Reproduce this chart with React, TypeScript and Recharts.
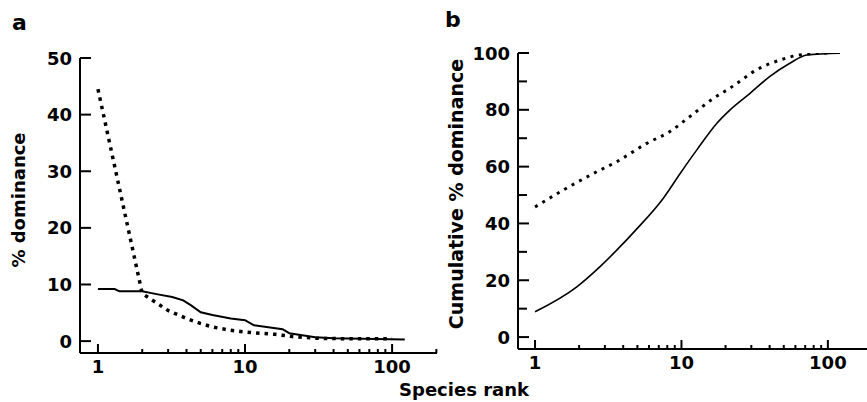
import { LineChart, Line, XAxis, YAxis } from "recharts";

// panel a: % dominance by species rank
const dottedA = [
  { x: 1, y: 44.5 },
  { x: 2, y: 8.4 },
  { x: 3, y: 5.4 },
  { x: 4, y: 4.0 },
  { x: 5, y: 3.1 },
  { x: 6, y: 2.5 },
  { x: 8, y: 1.9 },
  { x: 11, y: 1.5 },
  { x: 16, y: 1.2 },
  { x: 21, y: 0.8 },
  { x: 31, y: 0.5 },
  { x: 50, y: 0.4 },
  { x: 100, y: 0.4 },
];

const solidA = [
  { x: 1, y: 9.2 },
  { x: 1.3, y: 9.2 },
  { x: 1.4, y: 8.8 },
  { x: 2, y: 8.8 },
  { x: 2.5, y: 8.3 },
  { x: 3.2, y: 7.8 },
  { x: 3.8, y: 7.2 },
  { x: 4.3, y: 6.3 },
  { x: 5, y: 5.1 },
  { x: 6, y: 4.6 },
  { x: 8, y: 4.0 },
  { x: 10, y: 3.7 },
  { x: 11.5, y: 2.8 },
  { x: 14, y: 2.5 },
  { x: 18, y: 2.1 },
  { x: 20, y: 1.4 },
  { x: 30, y: 0.7 },
  { x: 40, y: 0.5 },
  { x: 122, y: 0.3 },
];

// panel b: cumulative % dominance
const dottedB = [
  { x: 1, y: 45.8 },
  { x: 1.64, y: 52.4 },
  { x: 2.64, y: 58.2 },
  { x: 3.6, y: 61.7 },
  { x: 5.8, y: 68.2 },
  { x: 8.3, y: 72.3 },
  { x: 11.4, y: 77.6 },
  { x: 16.5, y: 84 },
  { x: 21.4, y: 87.6 },
  { x: 34, y: 94.6 },
  { x: 47, y: 97.5 },
  { x: 64, y: 99.3 },
  { x: 100, y: 100 },
];

const solidB = [
  { x: 1, y: 8.9 },
  { x: 1.93, y: 17.7 },
  { x: 2.78, y: 24.8 },
  { x: 3.6, y: 30.5 },
  { x: 4.94, y: 38.0 },
  { x: 7.5, y: 48.8 },
  { x: 9.8, y: 57.6 },
  { x: 12.7, y: 65.8 },
  { x: 17.4, y: 75.2 },
  { x: 21.4, y: 79.9 },
  { x: 29.4, y: 85.8 },
  { x: 40, y: 91.7 },
  { x: 55, y: 96.4 },
  { x: 72, y: 99.3 },
  { x: 121, y: 99.9 },
];

const rankTicksA = [1, 2, 3, 4, 5, 6, 7, 8, 9, 10, 20, 30, 40, 50, 60, 70, 80, 90, 100, 200];
const rankTicksB = [1, 2, 3, 4, 5, 6, 7, 8, 9, 10, 20, 30, 40, 50, 60, 70, 80, 90, 100];
const majorRanks = [1, 10, 100];
const ticksA = [0, 10, 20, 30, 40, 50];
const ticksB = [0, 10, 20, 30, 40, 50, 60, 70, 80, 90, 100];
const majorB = [0, 20, 40, 60, 80, 100];

const font = "'DejaVu Sans', sans-serif";

function XTick(props: any) {
  const { x, y, payload } = props;
  const major = majorRanks.includes(payload.value);
  return (
    <g>
      <line x1={x} x2={x} y1={y} y2={y - (major ? 9 : 4)} stroke="#000" strokeWidth={2} />
      {major && (
        <text x={x} y={y + 20} textAnchor="middle" fontFamily={font} fontWeight="bold" fontSize={18} fill="#000">
          {payload.value}
        </text>
      )}
    </g>
  );
}

function makeYTick(labels: number[]) {
  return (props: any) => {
    const { x, y, payload } = props;
    const show = labels.includes(payload.value);
    return (
      <g>
        <line x1={x} x2={x + (show ? 11 : 9)} y1={y} y2={y} stroke="#000" strokeWidth={2} />
        {show && (
          <text x={x - 8} y={y + 6.5} textAnchor="end" fontFamily={font} fontWeight="bold" fontSize={18} fill="#000">
            {payload.value}
          </text>
        )}
      </g>
    );
  };
}

const axisStyle = { stroke: "#000", strokeWidth: 2 };

export default function App() {
  return (
    <div style={{ position: "absolute", left: 0, top: 0, width: 867, height: 402, background: "#fff" }}>
      <div style={{ position: "absolute", left: 0, top: 0 }}>
        <LineChart width={440} height={402} margin={{ top: 58, right: 3, bottom: 0, left: 0 }}>
          <XAxis
            type="number"
            dataKey="x"
            scale="log"
            domain={[0.755, 202]}
            allowDataOverflow
            ticks={rankTicksA}
            interval={0}
            height={49}
            tickSize={0}
            tickMargin={0}
            tickLine={false}
            axisLine={axisStyle}
            tick={XTick}
          />
          <YAxis
            type="number"
            domain={[-2.1, 50]}
            allowDataOverflow
            ticks={ticksA}
            interval={0}
            width={80}
            tickSize={0}
            tickMargin={0}
            tickLine={false}
            axisLine={axisStyle}
            tick={makeYTick(ticksA)}
          />
          <Line data={solidA} dataKey="y" type="linear" stroke="#000" strokeWidth={2} dot={false} isAnimationActive={false} />
          <Line data={dottedA} dataKey="y" type="linear" stroke="#000" strokeWidth={3.5} strokeDasharray="3.5 5" dot={false} isAnimationActive={false} />
        </LineChart>
      </div>
      <div style={{ position: "absolute", left: 440, top: 0 }}>
        <LineChart width={427} height={402} margin={{ top: 53, right: 0, bottom: 0, left: 0 }}>
          <XAxis
            type="number"
            dataKey="x"
            scale="log"
            domain={[0.765, 185]}
            allowDataOverflow
            ticks={rankTicksB}
            interval={0}
            height={53}
            tickSize={0}
            tickMargin={0}
            tickLine={false}
            axisLine={axisStyle}
            tick={XTick}
          />
          <YAxis
            type="number"
            domain={[-4.2, 100]}
            allowDataOverflow
            ticks={ticksB}
            interval={0}
            width={78}
            tickSize={0}
            tickMargin={0}
            tickLine={false}
            axisLine={axisStyle}
            tick={makeYTick(majorB)}
          />
          <Line data={solidB} dataKey="y" type="monotone" stroke="#000" strokeWidth={1.6} dot={false} isAnimationActive={false} />
          <Line data={dottedB} dataKey="y" type="monotone" stroke="#000" strokeWidth={3} strokeDasharray="3 5.5" dot={false} isAnimationActive={false} />
        </LineChart>
      </div>
      <svg width={867} height={402} style={{ position: "absolute", left: 0, top: 0, pointerEvents: "none" }}>
        <g fontFamily={font} fontWeight="bold" fill="#000">
          <text x={12} y={30} fontSize={22}>a</text>
          <text x={445} y={27} fontSize={22}>b</text>
          <text x={25} y={200} fontSize={18} textAnchor="middle" transform="rotate(-90 25 200)">% dominance</text>
          <text x={463} y={194} fontSize={19} textAnchor="middle" transform="rotate(-90 463 194)">Cumulative % dominance</text>
          <text x={464} y={396} fontSize={18} textAnchor="middle">Species rank</text>
        </g>
      </svg>
    </div>
  );
}
